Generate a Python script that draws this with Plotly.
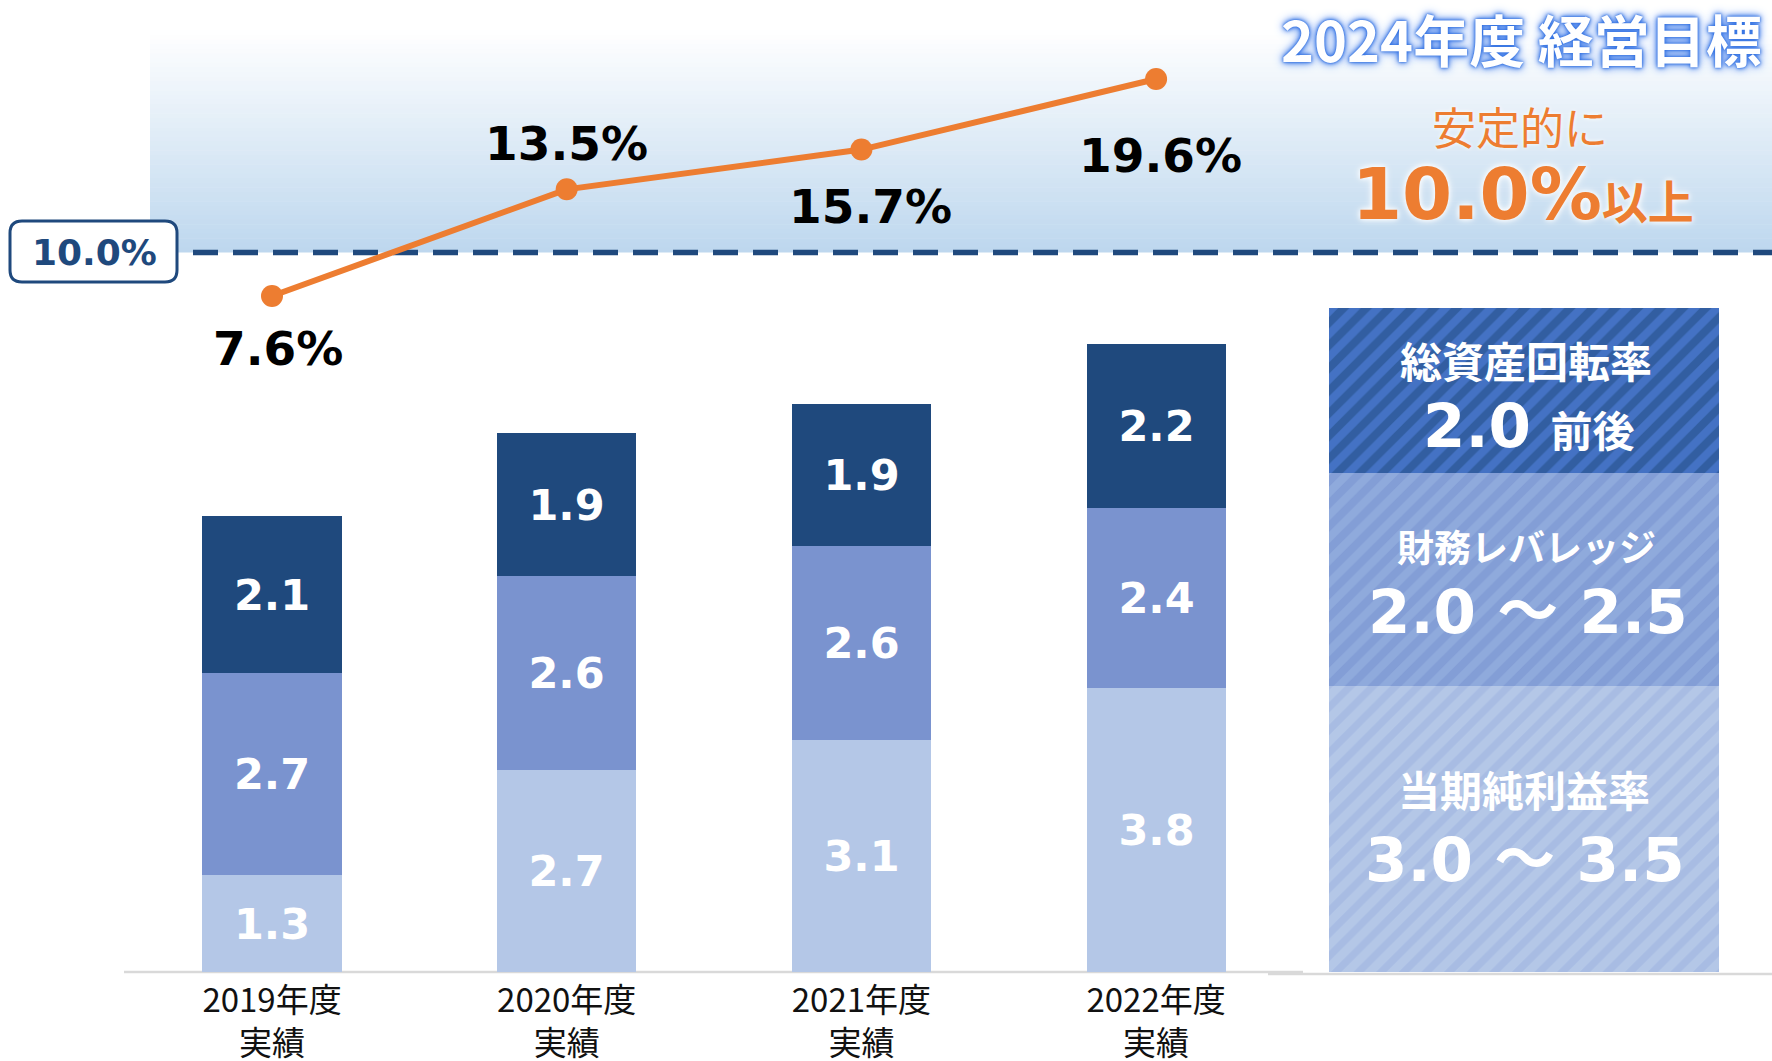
import plotly.graph_objects as go

# ---- data -------------------------------------------------------------
years = ["2019年度", "2020年度", "2021年度", "2022年度"]
net_margin = [1.3, 2.7, 3.1, 3.8]        # 当期純利益率
leverage = [2.7, 2.6, 2.6, 2.4]          # 財務レバレッジ
asset_turnover = [2.1, 1.9, 1.9, 2.2]    # 総資産回転率
roe = [7.6, 13.5, 15.7, 19.6]            # ROE (%)
roe_target = 10.0

goal_title = "2024年度 経営目標"
goal_items = [
    ("総資産回転率", "2.0", "前後"),
    ("財務レバレッジ", "2.0 ～ 2.5", ""),
    ("当期純利益率", "3.0 ～ 3.5", ""),
]

# ---- geometry ---------------------------------------------------------
W, H = 1772, 1061
PLOT_BOTTOM = 972                # pixel row of the category axis
X_ORIGIN_PX, X_UNIT_PX = 272, 294.7
Y_UNIT_PX = 74.8                 # bar scale, pixels per unit
Y2_UNIT_PX, Y2_REF_VAL, Y2_REF_PX = 18.08, 7.6, 296

x_range = [-X_ORIGIN_PX / X_UNIT_PX, (W - X_ORIGIN_PX) / X_UNIT_PX]
y_range = [0, PLOT_BOTTOM / Y_UNIT_PX]
y2_low = Y2_REF_VAL - (PLOT_BOTTOM - Y2_REF_PX) / Y2_UNIT_PX
y2_range = [y2_low, y2_low + PLOT_BOTTOM / Y2_UNIT_PX]


def X(px):
    return px / W


def Y(py):
    return (PLOT_BOTTOM - py) / PLOT_BOTTOM


def ax(px):
    return (px - X_ORIGIN_PX) / X_UNIT_PX


NAVY = "#1f497d"
MID = "#7a93cf"
LIGHT = "#b4c7e7"
ORANGE = "#ed7d31"
NUM_FONT = "DejaVu Sans, Noto Sans CJK JP"
JP_FONT = "Noto Sans CJK JP"

xs = list(range(len(years)))
fig = go.Figure()

# ---- stacked bars -----------------------------------------------------
for vals, color in [(net_margin, LIGHT), (leverage, MID), (asset_turnover, NAVY)]:
    fig.add_trace(go.Bar(
        x=xs, y=vals, width=0.472, marker=dict(color=color, line=dict(width=0)),
        text=[f"{v:.1f}" for v in vals], textposition="inside",
        insidetextanchor="middle", constraintext="none",
        textfont=dict(family=NUM_FONT, size=43, color="white", weight="bold"),
        hoverinfo="skip", showlegend=False,
    ))

# ---- target panel (striped blocks) ------------------------------------
panel_center = ax(1524)
panel_width = 390 / X_UNIT_PX
panel_heights = [3.82, 2.85, 2.21]
panel_styles = [
    ("#b4c7e7", "#9bb2e0", 0.45),
    ("#8faadc", "#7891cf", 0.5),
    ("#4472c4", "#1f497d", 0.5),
]
for h, (bg, fg, sol) in zip(panel_heights, panel_styles):
    fig.add_trace(go.Bar(
        x=[panel_center], y=[h], width=panel_width, xaxis="x2", yaxis="y",
        marker=dict(color=bg, line=dict(width=0),
                    pattern=dict(shape="/", fgcolor=fg, bgcolor=bg, size=16, solidity=sol)),
        hoverinfo="skip", showlegend=False,
    ))

# ---- ROE line ---------------------------------------------------------
fig.add_trace(go.Scatter(
    x=xs, y=roe, yaxis="y2", mode="lines+markers",
    line=dict(color=ORANGE, width=6), marker=dict(size=22, color=ORANGE),
    hoverinfo="skip", showlegend=False,
))

shapes = []
# soft gradient band above the target line
n_strips = 48
top_px, bot_px = 30, 252
for i in range(n_strips):
    t = (i + 0.5) / n_strips
    r = round(255 + (189 - 255) * t)
    g = round(255 + (215 - 255) * t)
    b = round(255 + (238 - 255) * t)
    y0 = top_px + (bot_px - top_px) * i / n_strips
    y1 = top_px + (bot_px - top_px) * (i + 1) / n_strips + 0.6
    shapes.append(dict(type="rect", xref="paper", yref="paper", layer="below",
                       x0=X(150), x1=1, y0=Y(y1), y1=Y(y0),
                       fillcolor=f"rgb({r},{g},{b})", line=dict(width=0)))

# target line
shapes.append(dict(type="line", xref="paper", yref="y2", layer="below",
                   x0=X(193), x1=1, y0=roe_target, y1=roe_target,
                   line=dict(color=NAVY, width=5.5, dash="25px,15px")))

# axis base lines
shapes.append(dict(type="line", xref="paper", yref="paper", layer="below",
                   x0=X(124), x1=X(1303), y0=Y(972), y1=Y(972),
                   line=dict(color="#d9d9d9", width=2.5)))
shapes.append(dict(type="line", xref="paper", yref="paper", layer="below",
                   x0=X(1268), x1=1, y0=Y(974), y1=Y(974),
                   line=dict(color="#d9d9d9", width=2.5)))


def rounded_rect(x0, y0, x1, y1, r):
    return (f"M {X(x0 + r)},{Y(y0)} L {X(x1 - r)},{Y(y0)} "
            f"Q {X(x1)},{Y(y0)} {X(x1)},{Y(y0 + r)} L {X(x1)},{Y(y1 - r)} "
            f"Q {X(x1)},{Y(y1)} {X(x1 - r)},{Y(y1)} L {X(x0 + r)},{Y(y1)} "
            f"Q {X(x0)},{Y(y1)} {X(x0)},{Y(y1 - r)} L {X(x0)},{Y(y0 + r)} "
            f"Q {X(x0)},{Y(y0)} {X(x0 + r)},{Y(y0)} Z")


shapes.append(dict(type="path", xref="paper", yref="paper",
                   path=rounded_rect(10, 221, 177, 282, 12),
                   fillcolor="white", line=dict(color=NAVY, width=3)))

annotations = []


def note(px, py, text, font):
    annotations.append(dict(
        x=X(px), y=Y(py), xref="paper", yref="paper", xanchor="center",
        yanchor="middle", showarrow=False, text=text, font=font,
    ))


# ROE value labels
label_shift = [(6, -52), (0, 46), (9, -57), (4, -76)]
for i, v in enumerate(roe):
    dx, dy = label_shift[i]
    annotations.append(dict(
        x=i, y=v, xref="x", yref="y2", xshift=dx, yshift=dy, showarrow=False,
        xanchor="center", yanchor="middle",
        text=f"{v:.1f}%", font=dict(family=NUM_FONT, size=47, color="black", weight="bold"),
    ))

# target label in box
note(94, 252, f"{roe_target:.1f}%",
     dict(family=NUM_FONT, size=36, color=NAVY, weight="bold"))

# goal heading
note(1521, 37, goal_title,
     dict(family=JP_FONT, size=56, color="white", weight="bold",
          shadow="0 0 2px #2f6fe0, 0 0 4px #2f6fe0, 0 0 7px #4f86ec, 0 0 12px #8ab0f5"))
note(1520, 126, "安定的に",
     dict(family=JP_FONT, size=44, color=ORANGE, shadow="0 0 4px white"))
note(1523, 194,
     f"<b>{roe_target:.1f}%</b><span style='font-size:46px'><b>以上</b></span>",
     dict(family=NUM_FONT, size=72, color=ORANGE, shadow="0 0 5px white, 0 0 8px white"))

# panel texts
panel_text_pos = [(1526, 359, 1528, 426), (1526, 546, 1528, 611), (1524, 788, 1525, 859)]
name_sizes = [42, 37, 42]
for (name, value, suffix), (nx, ny, vx, vy), ns in zip(goal_items, panel_text_pos, name_sizes):
    note(nx, ny, name, dict(family=JP_FONT, size=ns, color="white", weight="bold"))
    vtext = f"<b>{value}</b>"
    if suffix:
        vtext += f" <span style='font-size:42px'><b>{suffix}</b></span>"
    note(vx, vy, vtext, dict(family=NUM_FONT, size=61, color="white"))

fig.update_layout(
    width=W, height=H, margin=dict(l=0, r=0, t=0, b=H - PLOT_BOTTOM),
    paper_bgcolor="white", plot_bgcolor="rgba(0,0,0,0)",
    barmode="stack", bargap=0, showlegend=False,
    xaxis=dict(range=x_range, tickvals=xs, ticktext=[f"{y}<br>実績" for y in years],
               showgrid=False, zeroline=False, showline=False, ticks="",
               ticklabelstandoff=6, automargin=False,
               tickfont=dict(family=JP_FONT, size=33, color="#111111"), fixedrange=True),
    xaxis2=dict(range=x_range, overlaying="x", visible=False, fixedrange=True,
                automargin=False),
    yaxis=dict(range=y_range, visible=False, fixedrange=True, automargin=False),
    yaxis2=dict(range=y2_range, overlaying="y", visible=False, fixedrange=True,
                automargin=False),
    shapes=shapes, annotations=annotations,
    hovermode=False,
)

fig.write_html("out.html", config={"displayModeBar": False})
